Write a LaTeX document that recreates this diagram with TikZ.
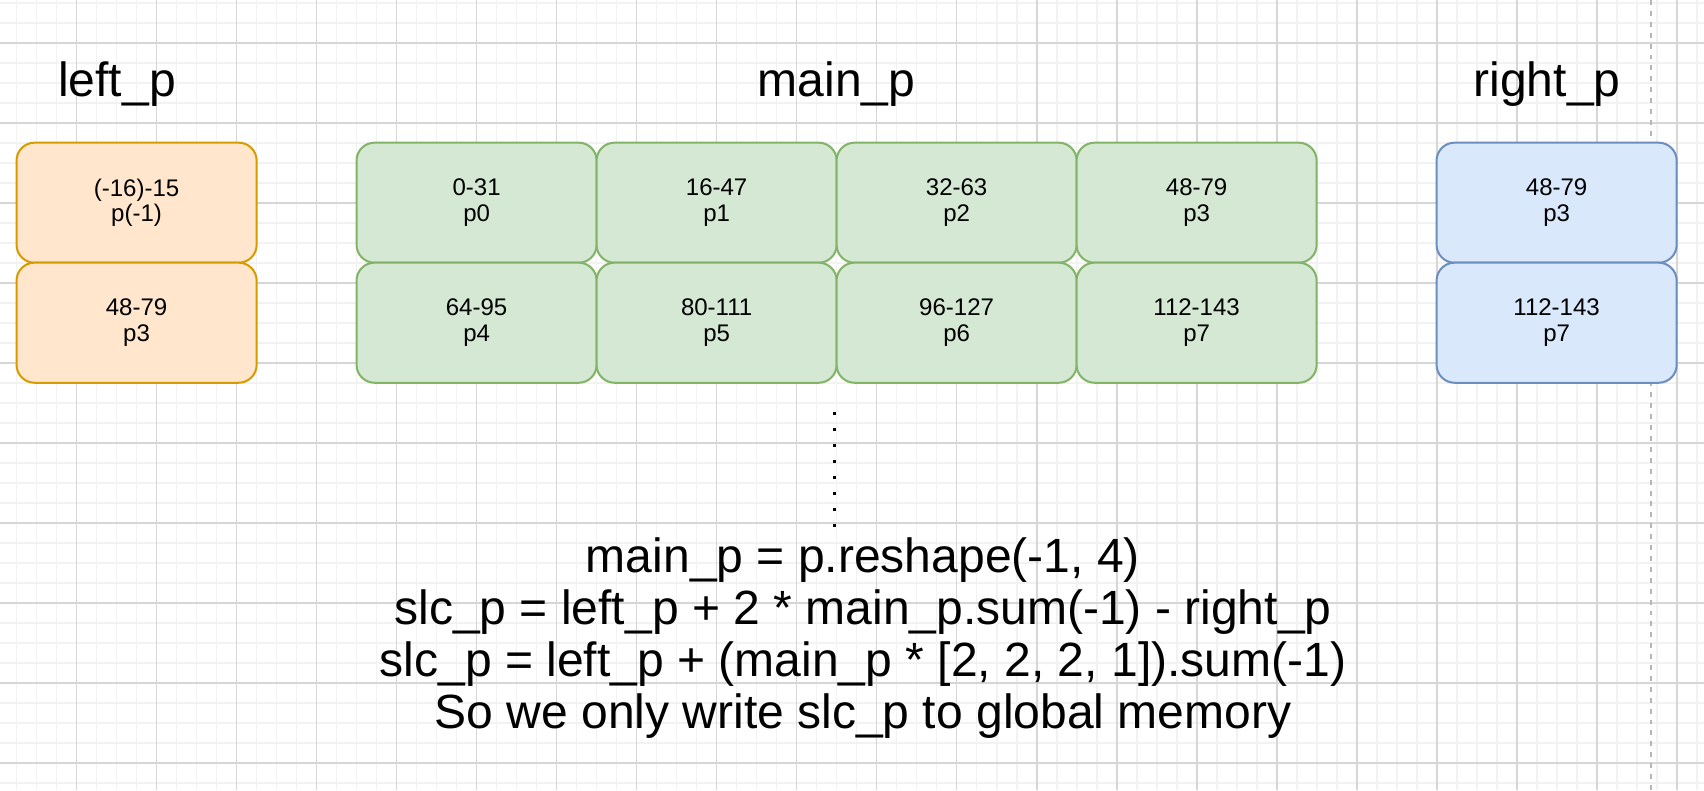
\documentclass[tikz,border=0pt]{standalone}
\usepackage{fontspec}
\setmainfont{Liberation Sans}
\usetikzlibrary{positioning}

\definecolor{leftfill}{HTML}{FFE6CC}
\definecolor{leftline}{HTML}{D79B00}
\definecolor{mainfill}{HTML}{D5E8D4}
\definecolor{mainline}{HTML}{82B366}
\definecolor{rightfill}{HTML}{DAE8FC}
\definecolor{rightline}{HTML}{6C8EBF}
\definecolor{minorgrid}{HTML}{F2F2F2}
\definecolor{majorgrid}{HTML}{D6D6D6}

\tikzset{
  cell/.style={draw, rounded corners=0.18cm, line width=0.57pt,
    minimum width=2.4cm, minimum height=1.2cm, inner sep=0pt,
    align=center, font=\fontsize{6.83}{7.2}\selectfont},
  leftcell/.style={cell, fill=leftfill, draw=leftline},
  maincell/.style={cell, fill=mainfill, draw=mainline},
  rightcell/.style={cell, fill=rightfill, draw=rightline},
  heading/.style={inner sep=0pt, font=\fontsize{13.66}{14.8}\selectfont},
}

\begin{document}
\begin{tikzpicture}[x=0.01cm, y=-0.01cm]
    \fill[white] (0,0) rectangle (1704,790);
    \useasboundingbox (0,0) rectangle (1704,790);
    % background grid
    \foreach \gx in {16.6,36.6,...,1704}
      \draw[minorgrid, line width=0.5pt] (\gx,0) -- (\gx,790);
    \foreach \gy in {2.7,22.7,...,790}
      \draw[minorgrid, line width=0.5pt] (0,\gy) -- (1704,\gy);
    \foreach \gx in {76.6,156.6,...,1704}
      \draw[majorgrid, line width=0.5pt] (\gx,0) -- (\gx,790);
    \foreach \gy in {42.7,122.7,...,790}
      \draw[majorgrid, line width=0.5pt] (0,\gy) -- (1704,\gy);
    \coordinate (pagetop) at (1650.7,0);
    \coordinate (pagebottom) at (1650.7,790);
    \draw[color=majorgrid!85!black, line width=0.57pt, dash pattern=on 1.4pt off 1.7pt] (pagetop) -- (pagebottom);

    \node[heading, anchor=base] (lefttitle) at (117,96) {left\_p};
    \node[heading, anchor=base] (maintitle) at (836.6,96) {main\_p};
    \node[heading, anchor=base] (righttitle) at (1547,96) {right\_p};

    \node[leftcell] (l0) at (136.6,202.7) {(-16)-15\\p(-1)};
    \node[leftcell] (l1) at (136.6,322.7) {48-79\\p3};

    \node[maincell] (m0) at (476.6,202.7) {0-31\\p0};
    \node[maincell] (m1) at (716.6,202.7) {16-47\\p1};
    \node[maincell] (m2) at (956.6,202.7) {32-63\\p2};
    \node[maincell] (m3) at (1196.6,202.7) {48-79\\p3};
    \node[maincell] (m4) at (476.6,322.7) {64-95\\p4};
    \node[maincell] (m5) at (716.6,322.7) {80-111\\p5};
    \node[maincell] (m6) at (956.6,322.7) {96-127\\p6};
    \node[maincell] (m7) at (1196.6,322.7) {112-143\\p7};

    \node[rightcell] (r0) at (1556.6,202.7) {48-79\\p3};
    \node[rightcell] (r1) at (1556.6,322.7) {112-143\\p7};

    \node[heading, align=center] (code) at (863,638) {main\_p = p.reshape(-1, 4)\\
      slc\_p = left\_p + 2 * main\_p.sum(-1) - right\_p\\
      slc\_p = left\_p + (main\_p * [2, 2, 2, 1]).sum(-1)\\
      So we only write slc\_p to global memory};

    \coordinate (dotstart) at (834,412);
    \coordinate (dotend) at (834,535);
    \draw[line width=0.85pt, dash pattern=on 0.85pt off 3.7pt] (dotstart) -- (dotend);
\end{tikzpicture}
\end{document}
